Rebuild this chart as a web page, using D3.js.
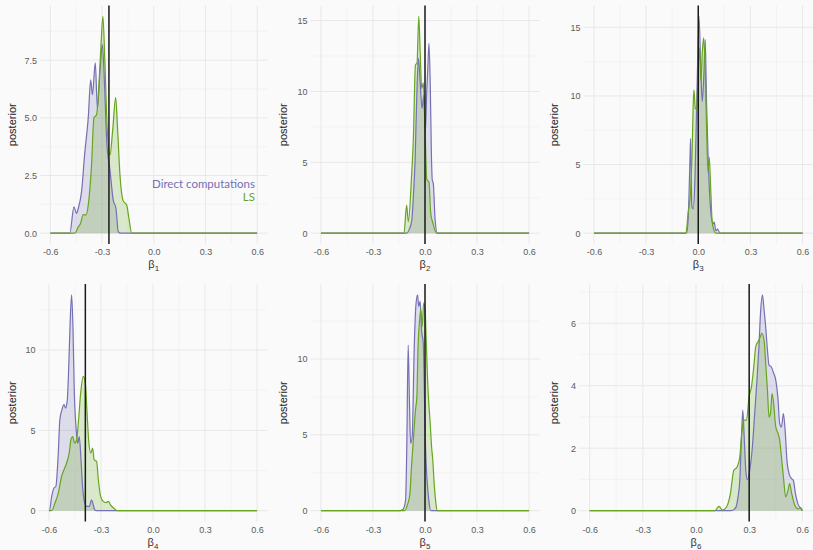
<!DOCTYPE html>
<html>
<head>
<meta charset="utf-8">
<script src="https://cdn.jsdelivr.net/npm/d3@7"></script>
<style>
  body { margin: 0; background: #fafafa; }
  svg { display: block; }
</style>
</head>
<body>
<svg id="chart" width="813" height="550"></svg>
<script>
// tick values / labels
const xTicks = [-0.6, -0.3, 0, 0.3, 0.6];
const xTickLabels = ["-0.6", "-0.3", "0.0", "0.3", "0.6"];
const yTicks1 = [0, 2.5, 5, 7.5];
const yTicks2 = [0, 5, 10, 15];
const yTicks3 = [0, 5, 10, 15];
const yTicks4 = [0, 5, 10];
const yTicks5 = [0, 5, 10];
const yTicks6 = [0, 2, 4, 6];
const yFormats = [".1f", "d", "d", "d", "d", "d"];

const seriesNames = ["Direct computations", "LS"];
const trueValues = [-0.26, 0, 0, -0.39, 0, 0.3];
const subscripts = ["1", "2", "3", "4", "5", "6"];

// posterior densities, [beta, density]
const b1Direct = [[-0.6,0],[-0.487,0],[-0.463,1.14],[-0.448,0.86],[-0.438,1.07],[-0.419,1.8],[-0.4,3.5],[-0.38,5.0],[-0.366,6.65],[-0.356,6.0],[-0.339,7.38],[-0.327,5.4],[-0.312,7.0],[-0.298,8.17],[-0.285,6.3],[-0.273,4.0],[-0.254,2.74],[-0.235,1.43],[-0.219,1.07],[-0.206,0.06],[-0.19,0],[0.6,0]];
const b1LS = [[-0.6,0],[-0.458,0],[-0.438,0.27],[-0.425,0.42],[-0.409,0.81],[-0.394,0.78],[-0.38,1.22],[-0.361,2.96],[-0.347,5.0],[-0.332,5.13],[-0.316,6.72],[-0.307,8.03],[-0.295,9.4],[-0.283,7.3],[-0.27,4.55],[-0.254,3.39],[-0.239,4.4],[-0.221,5.88],[-0.21,4.55],[-0.196,2.52],[-0.177,1.4],[-0.157,1.22],[-0.144,0.64],[-0.128,0],[0.6,0]];

const b2Direct = [[-0.6,0],[-0.105,0],[-0.09,0.3],[-0.076,0.92],[-0.066,2.8],[-0.057,5.2],[-0.048,9.4],[-0.038,12.35],[-0.029,10.9],[-0.017,8.8],[-0.007,9.75],[0.002,7.16],[0.01,10.0],[0.016,11.6],[0.023,13.4],[0.031,10.0],[0.037,5.5],[0.042,3.75],[0.048,3.5],[0.058,1.0],[0.071,0],[0.6,0]];
const b2LS = [[-0.6,0],[-0.121,0],[-0.106,1.98],[-0.096,0.8],[-0.078,3.9],[-0.067,6.7],[-0.055,11.87],[-0.046,12.0],[-0.036,15.3],[-0.027,12.5],[-0.019,10.2],[-0.01,10.6],[0.0,7.5],[0.01,3.8],[0.023,3.6],[0.033,1.4],[0.046,0.7],[0.067,0],[0.6,0]];

const b3Direct = [[-0.6,0],[-0.067,0],[-0.058,1.03],[-0.048,5.18],[-0.044,6.9],[-0.037,2.0],[-0.029,1.76],[-0.019,3.96],[-0.009,9.35],[0.0,14.24],[0.004,15.8],[0.014,12.3],[0.023,9.6],[0.033,11.8],[0.04,14.1],[0.048,9.35],[0.057,5.43],[0.067,2.5],[0.077,1.03],[0.086,0.67],[0.092,0.8],[0.101,0.17],[0.111,0.3],[0.125,0],[0.6,0]];
const b3LS = [[-0.6,0],[-0.071,0],[-0.058,1.5],[-0.044,3.0],[-0.035,6.17],[-0.029,9.35],[-0.025,10.45],[-0.017,9.1],[-0.009,9.0],[-0.002,11.3],[0.008,13.5],[0.015,11.06],[0.025,13.5],[0.031,14.24],[0.04,11.8],[0.048,7.63],[0.056,4.45],[0.063,5.55],[0.071,3.47],[0.079,1.03],[0.086,0.4],[0.101,0],[0.6,0]];

const b4Direct = [[-0.6,0],[-0.597,0],[-0.584,0.89],[-0.571,1.41],[-0.56,1.51],[-0.546,3.59],[-0.537,5.66],[-0.525,6.28],[-0.513,6.6],[-0.504,6.39],[-0.494,6.9],[-0.485,9.19],[-0.477,11.9],[-0.469,13.44],[-0.461,11.26],[-0.454,7.53],[-0.444,5.25],[-0.434,4.21],[-0.425,4.62],[-0.415,3.17],[-0.406,1.51],[-0.394,0.5],[-0.382,0.27],[-0.367,0.27],[-0.354,0.68],[-0.344,0.35],[-0.335,0.05],[-0.321,0],[0.6,0]];
const b4LS = [[-0.6,0],[-0.585,0],[-0.565,0.48],[-0.546,1.1],[-0.527,2.13],[-0.513,2.55],[-0.498,2.97],[-0.483,3.59],[-0.473,4.42],[-0.463,4.62],[-0.452,4.21],[-0.44,4.42],[-0.429,5.66],[-0.417,7.32],[-0.402,8.36],[-0.39,7.95],[-0.381,6.28],[-0.371,4.42],[-0.359,3.59],[-0.348,3.9],[-0.339,3.17],[-0.325,3.07],[-0.315,1.93],[-0.302,0.89],[-0.287,0.58],[-0.271,0.5],[-0.258,0.58],[-0.244,0.35],[-0.225,0.15],[-0.206,0],[0.6,0]];

const b5Direct = [[-0.6,0],[-0.145,0],[-0.126,0.1],[-0.112,0.68],[-0.105,4.2],[-0.097,10.92],[-0.089,6.85],[-0.083,4.43],[-0.074,4.86],[-0.062,10.8],[-0.053,13.46],[-0.043,14.23],[-0.036,13.46],[-0.028,13.8],[-0.02,11.92],[-0.01,11.06],[-0.005,8.61],[0.003,4.2],[0.012,2.0],[0.022,0.68],[0.034,0],[0.6,0]];
const b5LS = [[-0.6,0],[-0.116,0],[-0.101,0.4],[-0.087,1.12],[-0.078,2.88],[-0.066,4.86],[-0.055,6.63],[-0.047,7.5],[-0.04,10.8],[-0.031,12.58],[-0.024,13.24],[-0.016,12.13],[-0.008,13.68],[0.0,13.35],[0.007,11.26],[0.015,8.61],[0.022,7.07],[0.03,5.75],[0.038,4.2],[0.045,3.32],[0.053,1.78],[0.061,0.68],[0.07,0],[0.6,0]];

const b6Direct = [[-0.6,0],[0.2,0],[0.224,0.1],[0.237,0.44],[0.247,0.97],[0.256,2.26],[0.264,3.22],[0.271,2.47],[0.281,1.29],[0.29,0.99],[0.303,1.29],[0.318,2.04],[0.331,3.11],[0.344,4.18],[0.355,5.25],[0.365,6.43],[0.375,6.91],[0.384,6.43],[0.393,5.89],[0.403,5.14],[0.412,4.66],[0.425,4.6],[0.438,4.4],[0.45,4.18],[0.463,3.54],[0.472,2.79],[0.482,2.68],[0.493,3.11],[0.504,2.47],[0.513,1.61],[0.525,1.19],[0.538,1.03],[0.549,0.97],[0.561,0.55],[0.575,0.22],[0.59,0.08],[0.6,0]];
const b6LS = [[-0.6,0],[0.106,0],[0.13,0.14],[0.149,0.02],[0.172,0.12],[0.194,0.55],[0.213,1.29],[0.232,1.4],[0.247,1.72],[0.258,2.47],[0.269,2.9],[0.285,2.9],[0.299,3.64],[0.313,3.97],[0.326,4.61],[0.337,5.25],[0.35,5.41],[0.363,5.57],[0.372,5.68],[0.384,5.46],[0.393,4.72],[0.403,3.86],[0.412,3.0],[0.42,3.11],[0.429,3.75],[0.438,3.43],[0.45,2.68],[0.463,2.47],[0.472,2.26],[0.482,1.72],[0.495,0.97],[0.506,0.44],[0.519,0.65],[0.528,0.87],[0.54,0.55],[0.557,0.18],[0.575,0.06],[0.59,0.1],[0.6,0]];

const colors = ["#7570b3", "#66a61e"];

// panel rectangles (plot area) + cell origin x
const layout = [
  { cx: 0,   left: 40,    right: 267.5, top: 5.5, bottom: 244 },
  { cx: 271, left: 310.5, right: 539.5, top: 5.5, bottom: 244 },
  { cx: 542, left: 583.5, right: 813,   top: 5.5, bottom: 244 },
  { cx: 0,   left: 38.5,  right: 267.5, top: 284, bottom: 521.5 },
  { cx: 271, left: 310.5, right: 539.5, top: 284, bottom: 521.5 },
  { cx: 542, left: 579,   right: 813,   top: 284, bottom: 521.5 }
];

const panels = [
  { series: [b1Direct, b1LS], yTicks: yTicks1 },
  { series: [b2Direct, b2LS], yTicks: yTicks2 },
  { series: [b3Direct, b3LS], yTicks: yTicks3 },
  { series: [b4Direct, b4LS], yTicks: yTicks4 },
  { series: [b5Direct, b5LS], yTicks: yTicks5 },
  { series: [b6Direct, b6LS], yTicks: yTicks6 }
];

const svg = d3.select("#chart");
svg.append("rect").attr("width", 813).attr("height", 550).attr("fill", "#fafafa");

panels.forEach((p, i) => {
  const L = layout[i];
  const ymax = d3.max(p.series, (s) => d3.max(s, (d) => d[1]));

  const x = d3.scaleLinear().domain([-0.66, 0.66]).range([L.left, L.right]);
  const y = d3.scaleLinear().domain([-0.05 * ymax, 1.05 * ymax]).range([L.bottom, L.top]);

  const g = svg.append("g");

  // minor grid
  const step = p.yTicks[1] - p.yTicks[0];
  const yMinor = d3.range(step / 2, 1.05 * ymax, step);
  const xMinor = [-0.45, -0.15, 0.15, 0.45];
  g.append("g").selectAll("line").data(yMinor).enter().append("line")
    .attr("x1", L.left).attr("x2", L.right)
    .attr("y1", (d) => y(d)).attr("y2", (d) => y(d))
    .attr("stroke", "#efefef").attr("stroke-width", 0.6);
  g.append("g").selectAll("line").data(xMinor).enter().append("line")
    .attr("x1", (d) => x(d)).attr("x2", (d) => x(d))
    .attr("y1", L.top).attr("y2", L.bottom)
    .attr("stroke", "#efefef").attr("stroke-width", 0.6);

  // major grid
  g.append("g").selectAll("line").data(p.yTicks).enter().append("line")
    .attr("x1", L.left).attr("x2", L.right)
    .attr("y1", (d) => y(d)).attr("y2", (d) => y(d))
    .attr("stroke", "#e8e8e8").attr("stroke-width", 1);
  g.append("g").selectAll("line").data(xTicks).enter().append("line")
    .attr("x1", (d) => x(d)).attr("x2", (d) => x(d))
    .attr("y1", L.top).attr("y2", L.bottom)
    .attr("stroke", "#e8e8e8").attr("stroke-width", 1);

  // axes (text only)
  const yAxis = d3.axisLeft(y).tickValues(p.yTicks).tickSize(0).tickPadding(3)
    .tickFormat(d3.format(yFormats[i]));
  const xAxis = d3.axisBottom(x).tickValues(xTicks).tickSize(0).tickPadding(5)
    .tickFormat((d, k) => xTickLabels[k]);

  const ya = g.append("g").attr("transform", `translate(${L.left},0)`).call(yAxis);
  const xa = g.append("g").attr("transform", `translate(0,${L.bottom})`).call(xAxis);
  [ya, xa].forEach((a) => {
    a.select(".domain").remove();
    a.selectAll("text")
      .attr("fill", "#5a5a5a")
      .style("font-family", "Liberation Sans, Arial, sans-serif")
      .style("font-size", "9px");
  });

  // densities
  const area = d3.area().curve(d3.curveMonotoneX)
    .x((d) => x(d[0])).y0(y(0)).y1((d) => y(d[1]));
  const line = d3.line().curve(d3.curveMonotoneX)
    .x((d) => x(d[0])).y((d) => y(d[1]));

  p.series.forEach((s, k) => {
    g.append("path").datum(s).attr("d", area)
      .attr("fill", colors[k]).attr("fill-opacity", 0.22);
  });
  p.series.forEach((s, k) => {
    g.append("path").datum(s).attr("d", line)
      .attr("fill", "none").attr("stroke", colors[k]).attr("stroke-width", 1.2);
  });

  // true value
  g.append("line")
    .attr("x1", x(trueValues[i])).attr("x2", x(trueValues[i]))
    .attr("y1", L.top).attr("y2", L.bottom)
    .attr("stroke", "#1a1a1a").attr("stroke-width", 1.5);

  // axis titles
  const xt = g.append("text")
    .attr("x", (L.left + L.right) / 2)
    .attr("y", L.bottom + 24)
    .attr("text-anchor", "middle")
    .style("font-family", "Liberation Sans, Arial, sans-serif")
    .style("font-size", "11px")
    .attr("fill", "#333");
  xt.append("tspan").text("β");
  xt.append("tspan").attr("dy", 3).style("font-size", "8px").text(subscripts[i]);

  g.append("text")
    .attr("transform", `translate(${L.cx + 16},${(L.top + L.bottom) / 2}) rotate(-90)`)
    .attr("text-anchor", "middle")
    .style("font-family", "Liberation Sans, Arial, sans-serif")
    .style("font-size", "11px")
    .attr("fill", "#222")
    .text("posterior");

  // legend labels in first panel
  if (i === 0) {
    seriesNames.forEach((name, k) => {
      g.append("text")
        .attr("x", 255)
        .attr("y", 187.5 + k * 13.5)
        .attr("text-anchor", "end")
        .style("font-family", "Lato, sans-serif")
        .style("font-size", "11.5px")
        .attr("fill", colors[k])
        .text(name);
    });
  }
});
</script>
</body>
</html>
